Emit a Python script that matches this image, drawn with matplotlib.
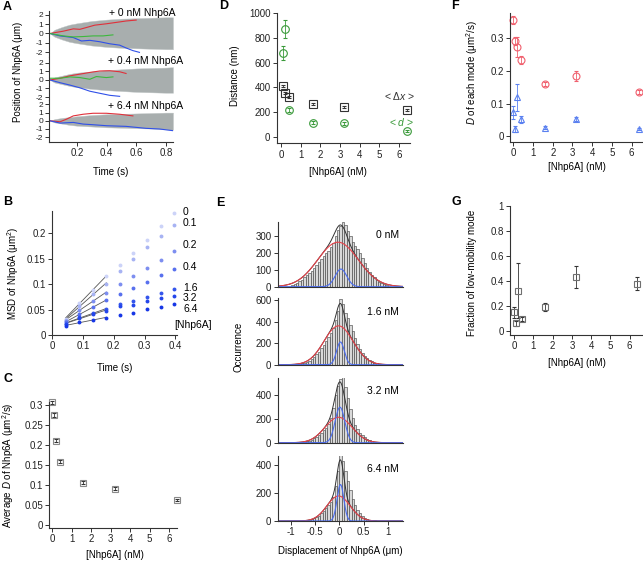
import numpy as np
import matplotlib
matplotlib.use("Agg")
import matplotlib.pyplot as plt

plt.rcParams['font.family'] = ['Liberation Sans', 'DejaVu Sans']
plt.rcParams['mathtext.fontset'] = 'custom'
plt.rcParams['mathtext.rm'] = 'Liberation Sans'
plt.rcParams['mathtext.it'] = 'Liberation Sans:italic'
plt.rcParams['font.size'] = 7

# ---------------- data ----------------
conc = [0, 0.1, 0.2, 0.4, 1.6, 3.2, 6.4]

# A: spread of trajectories (envelope of grey traces) and three example traces
a_t = [0.02, 0.05, 0.1, 0.15, 0.2, 0.3, 0.4, 0.5, 0.6, 0.7, 0.8, 0.845]
a_env = {
    "+ 0 nM Nhp6A": ([0.0, 0.4, 0.7, 0.95, 1.1, 1.35, 1.5, 1.6, 1.65, 1.7, 1.75, 1.75],
                     [0.0, -0.35, -0.65, -0.9, -1.05, -1.3, -1.45, -1.55, -1.6, -1.65, -1.7, -1.7]),
    "+ 0.4 nM Nhp6A": ([0.0, 0.3, 0.5, 0.7, 0.85, 1.0, 1.15, 1.25, 1.35, 1.4, 1.45, 1.5],
                       [0.0, -0.3, -0.5, -0.7, -0.85, -1.05, -1.2, -1.3, -1.4, -1.45, -1.5, -1.5]),
    "+ 6.4 nM Nhp6A": ([0.0, 0.2, 0.35, 0.45, 0.55, 0.7, 0.8, 0.85, 0.9, 0.95, 1.0, 1.0],
                       [0.0, -0.2, -0.35, -0.5, -0.6, -0.7, -0.8, -0.85, -0.9, -0.95, -1.05, -1.1]),
}
a_red = [([0.02, 0.109, 0.176, 0.22, 0.276, 0.32, 0.398, 0.487, 0.53, 0.598],
          [0, 0.25, 0.5, 0.45, 0.7, 0.9, 1.05, 1.25, 1.35, 1.45]),
         ([0.02, 0.087, 0.153, 0.22, 0.287, 0.353, 0.42, 0.487, 0.53],
          [0, 0.2, 0.48, 0.68, 0.88, 1.05, 1.08, 0.96, 0.76]),
         ([0.02, 0.087, 0.131, 0.176, 0.242, 0.309, 0.398, 0.487, 0.576],
          [0, -0.12, 0.2, 0.6, 0.8, 0.92, 0.92, 0.8, 0.6])]
a_blue = [([0.02, 0.087, 0.176, 0.231, 0.287, 0.353, 0.42, 0.487, 0.53, 0.576, 0.62],
           [0, -0.26, -0.44, -0.81, -0.74, -0.89, -1.11, -1.26, -1.56, -1.85, -2.04]),
          ([0.02, 0.087, 0.153, 0.22, 0.287, 0.353, 0.42, 0.487],
           [0, -0.32, -0.6, -0.92, -1.32, -1.56, -1.8, -1.92]),
          ([0.02, 0.087, 0.176, 0.242, 0.309, 0.398, 0.53, 0.664, 0.753, 0.842],
           [0, -0.28, -0.2, -0.4, -0.48, -0.6, -0.68, -0.92, -1.0, -1.2])]
a_green = [([0.02, 0.109, 0.176, 0.242, 0.309, 0.376, 0.442],
            [0, -0.26, -0.37, -0.33, -0.26, -0.26, -0.15]),
           ([0.02, 0.087, 0.153, 0.22, 0.287, 0.331, 0.398, 0.442],
            [0.2, 0.2, 0.36, 0.28, 0.08, 0.4, 0.28, 0.36]),
           None]

# B: MSD vs lag time
b_time = [0.044, 0.088, 0.132, 0.176, 0.22, 0.264, 0.308, 0.352, 0.396]
b_msd = {
    "0":   [0.032, 0.063, 0.089, 0.115, 0.137, 0.161, 0.187, 0.214, 0.240],
    "0.1": [0.030, 0.057, 0.080, 0.101, 0.126, 0.150, 0.173, 0.194, 0.216],
    "0.2": [0.028, 0.050, 0.067, 0.083, 0.0997, 0.115, 0.131, 0.147, 0.164],
    "0.4": [0.025, 0.041, 0.055, 0.068, 0.080, 0.092, 0.105, 0.118, 0.130],
    "1.6": [0.022, 0.035, 0.043, 0.051, 0.061, 0.067, 0.074, 0.083, 0.090],
    "3.2": [0.021, 0.034, 0.041, 0.048, 0.056, 0.059, 0.066, 0.072, 0.077],
    "6.4": [0.018, 0.025, 0.030, 0.034, 0.039, 0.044, 0.051, 0.055, 0.060],
}
b_colors = ['#ccd3f8', '#a7b3f3', '#7d8ef0', '#5870ee', '#3455ec', '#2446ea', '#1636e6']
b_label_y = [211.7, 223.3, 245, 266.7, 288.3, 298.3, 309]

# C: average D
c_D = [0.307, 0.275, 0.211, 0.158, 0.106, 0.091, 0.062]
c_err = [0.004, 0.004, 0.004, 0.004, 0.003, 0.003, 0.003]

# D: distances
d_conc = [0.1, 0.2, 0.4, 1.6, 3.2, 6.4]
d_dx = [412, 358, 321, 265, 246, 219]
d_dx_err = [8, 8, 8, 8, 8, 8]
d_d = [674, 869, 219, 118, 112, 53]
d_d_err = [55, 70, 15, 10, 12, 8]

# E: displacement histograms (bins of 0.05 um from -1 to 1) and two-Gaussian fits
e_labels = ["0 nM", "1.6 nM", "3.2 nM", "6.4 nM"]
e_counts = [
    [12, 18, 25, 33, 42, 55, 68, 80, 96, 112, 130, 148, 165, 180, 198, 215, 238, 262, 300, 335,
     360, 388, 370, 330, 300, 268, 245, 225, 200, 170, 140, 112, 90, 70, 55, 40, 30, 22, 15, 10],
    [2, 3, 5, 8, 12, 18, 26, 38, 52, 70, 95, 122, 152, 185, 222, 258, 295, 340, 410, 500,
     605, 560, 480, 430, 370, 310, 250, 195, 150, 112, 82, 60, 42, 30, 20, 13, 8, 5, 3, 2],
    [1, 1, 2, 3, 5, 8, 12, 18, 26, 36, 50, 66, 85, 105, 128, 160, 210, 290, 400, 480,
     540, 552, 470, 380, 285, 205, 150, 112, 85, 62, 45, 32, 22, 15, 10, 6, 4, 2, 1, 1],
    [0, 0, 0, 1, 1, 2, 4, 7, 11, 18, 27, 39, 54, 72, 92, 115, 140, 175, 250, 360,
     472, 430, 360, 290, 220, 160, 115, 80, 55, 38, 25, 16, 10, 6, 4, 2, 1, 1, 0, 0],
]
e_fast = [(265, -0.03, 0.42), (360, -0.02, 0.30), (215, -0.02, 0.28), (180, -0.02, 0.24)]
e_slow = [(105, 0.03, 0.12), (210, 0.02, 0.08), (300, 0.01, 0.10), (262, 0.02, 0.07)]
e_ylim = [387, 615, 549, 467]
e_yticks = [[0, 100, 200, 300], [0, 200, 400, 600], [0, 200, 400], [0, 200, 400]]

# F: D of each mode
f_fast = [0.356, 0.292, 0.274, 0.233, 0.161, 0.186, 0.136]
f_fast_err = [0.012, 0.012, 0.03, 0.012, 0.006, 0.015, 0.006]
f_slow = [0.073, 0.022, 0.119, 0.052, 0.027, 0.052, 0.023]
f_slow_err = [0.02, 0.01, 0.04, 0.01, 0.005, 0.006, 0.004]

# G: fraction of low-mobility mode
g_frac = [0.149, 0.061, 0.323, 0.099, 0.192, 0.432, 0.379]
g_err = [0.045, 0.02, 0.22, 0.015, 0.035, 0.085, 0.05]

# ---------------- layout helpers ----------------
W, H = 643, 562
fig = plt.figure(figsize=(W / 100, H / 100), dpi=100)

def px_axes(l, t, r, b):
    return fig.add_axes([l / W, 1 - b / H, (r - l) / W, (b - t) / H])

def px_text(x, y, s, **kw):
    fig.text(x / W, 1 - y / H, s, **kw)

def style(ax, bottom=True, size=7):
    for s in ['top', 'right']:
        ax.spines[s].set_visible(False)
    for s in ['left', 'bottom']:
        ax.spines[s].set_linewidth(0.8)
        ax.spines[s].set_color('#333333')
    if not bottom:
        ax.spines['bottom'].set_visible(False)
    ax.tick_params(direction='out', length=3, width=0.7, colors='#333333',
                   labelsize=size, pad=1.5, labelcolor='#222222')

def fmt(vals):
    return [f"{v:g}" for v in vals]

def points(ax, x, y, err, marker, col, ecol, ms=5):
    eb = ax.errorbar(x, y, yerr=err, fmt=marker, ms=ms, mfc='none', mec=col, mew=0.8,
                     ecolor=ecol, elinewidth=0.6, capsize=1.5)
    for art in [eb.lines[0], *eb.lines[1], *eb.lines[2]]:
        art.set_clip_on(False)

# ---------------- panel A ----------------
a_boxes = [(11, 57), (57, 100), (100, 142)]
a_ylims = [(-2.54, 2.43), (-2.35, 2.69), (-2.59, 2.54)]
for i, (name, (hi, lo)) in enumerate(a_env.items()):
    t, b = a_boxes[i]
    ax = px_axes(49, t, 173, b)
    style(ax, bottom=(i == 2), size=6)
    ax.tick_params(axis='y', pad=1)
    ax.fill_between(a_t, lo, hi, color='#a8aeae', lw=0.3, edgecolor='#c0c6c6')
    ax.plot(*a_red[i], color='#e0303a', lw=0.8)
    ax.plot(*a_blue[i], color='#3050e8', lw=0.8)
    if a_green[i] is not None:
        ax.plot(*a_green[i], color='#3cb83c', lw=0.8)
    ax.set_xlim(0.013, 0.845)
    ax.set_ylim(*a_ylims[i])
    ax.set_yticks([-2, -1, 0, 1, 2])
    ax.set_yticklabels(fmt([-2, -1, 0, 1, 2]))
    if i < 2:
        ax.set_xticks([])
    else:
        ax.set_xticks([0.2, 0.4, 0.6, 0.8])
        ax.set_xticklabels(fmt([0.2, 0.4, 0.6, 0.8]), fontsize=7)
px_text(109, 13, "+ 0 nM Nhp6A", va='center', fontsize=7.5)
px_text(108, 61, "+ 0.4 nM Nhp6A", va='center', fontsize=7.5)
px_text(108, 106, "+ 6.4 nM Nhp6A", va='center', fontsize=7.5)
px_text(18, 72, "Position of Nhp6A (μm)", rotation=90, ha='center', va='center')
px_text(111, 172, "Time (s)", ha='center', va='center')

# ---------------- panel B ----------------
ax = px_axes(52, 210.7, 177, 335)
style(ax)
for (lab, y), col, ly in zip(b_msd.items(), b_colors, b_label_y):
    k, c0 = np.polyfit(b_time[:4], y[:4], 1)
    ax.plot([b_time[0], b_time[3]], [k * b_time[0] + c0, k * b_time[3] + c0],
            color='#555555', lw=0.6, zorder=1)
    ax.plot(b_time, y, 'o', color=col, ms=2.8, mec='none', zorder=2)
    px_text(183, ly, lab, va='center', fontsize=7.5)
px_text(174, 325, "[Nhp6A]", va='center', fontsize=7.5)
ax.set_xlim(0, 0.405)
ax.set_ylim(0, 0.244)
ax.set_xticks([0, 0.1, 0.2, 0.3, 0.4])
ax.set_xticklabels(fmt([0, 0.1, 0.2, 0.3, 0.4]))
ax.set_yticks([0, 0.05, 0.1, 0.15, 0.2])
ax.set_yticklabels(fmt([0, 0.05, 0.1, 0.15, 0.2]))
px_text(13, 273, "MSD of Nhp6A (μm$^2$)", rotation=90, ha='center', va='center')
px_text(115, 368, "Time (s)", ha='center', va='center')

# ---------------- panel C ----------------
ax = px_axes(49.3, 401.7, 177, 527.7)
style(ax)
points(ax, conc, c_D, c_err, 's', '#8a8a8a', '#333333', ms=4.5)
ax.set_xlim(-0.15, 6.4)
ax.set_ylim(-0.007, 0.308)
ax.set_xticks(range(7))
ax.set_yticks([0, 0.05, 0.1, 0.15, 0.2, 0.25, 0.3])
ax.set_yticklabels(fmt([0, 0.05, 0.1, 0.15, 0.2, 0.25, 0.3]))
px_text(8, 465, "Average $D$ of Nhp6A (μm$^2$/s)", rotation=90, ha='center', va='center')
px_text(115, 555, "[Nhp6A] (nM)", ha='center', va='center')

# ---------------- panel D ----------------
ax = px_axes(276.7, 12.7, 410, 143.3)
style(ax)
points(ax, d_conc, d_dx, d_dx_err, 's', '#333333', '#333333', ms=5.5)
points(ax, d_conc, d_d, d_d_err, 'o', '#3a9a3a', '#3a9a3a', ms=5.5)
ax.set_xlim(-0.235, 6.57)
ax.set_ylim(-48, 1000)
ax.set_xticks(range(7))
ax.set_yticks([0, 200, 400, 600, 800, 1000])
px_text(400, 96, "< Δ$x$ >", ha='center', va='center', fontsize=7.5, color='#333333')
px_text(402, 122, "< $d$ >", ha='center', va='center', fontsize=7.5, color='#3a9a3a')
px_text(235, 76, "Distance (nm)", rotation=90, ha='center', va='center')
px_text(338, 172, "[Nhp6A] (nM)", ha='center', va='center')

# ---------------- panel E ----------------
e_boxes = [(221.7, 286.7), (298.3, 364.7), (377.7, 442.7), (456, 521)]
centers = np.arange(-0.975, 1.0, 0.05)
xs = np.linspace(-1.28, 1.31, 400)
for i in range(4):
    t, b = e_boxes[i]
    ax = px_axes(277.7, t, 402.7, b)
    style(ax)
    ax.bar(centers, e_counts[i], width=0.05, color='#d9d9d9', edgecolor='#3a3a3a', lw=0.4)
    A1, m1, s1 = e_fast[i]
    A2, m2, s2 = e_slow[i]
    g1 = A1 * np.exp(-(xs - m1) ** 2 / (2 * s1 ** 2))
    g2 = A2 * np.exp(-(xs - m2) ** 2 / (2 * s2 ** 2))
    ax.plot(xs, g1 + g2, color='#333333', lw=0.7)
    ax.plot(xs, g1, color='#e8424a', lw=0.8)
    ax.plot(xs, g2, color='#4a6cf0', lw=0.8)
    ax.set_xlim(-1.28, 1.31)
    ax.set_ylim(0, e_ylim[i])
    ax.set_yticks(e_yticks[i])
    if i < 3:
        ax.set_xticks([])
    else:
        ax.set_xticks([-1, -0.5, 0, 0.5, 1])
        ax.set_xticklabels(fmt([-1, -0.5, 0, 0.5, 1]))
    ax.text(0.97, 0.8, e_labels[i], transform=ax.transAxes, ha='right', va='center', fontsize=7.5)
px_text(238, 347, "Occurrence", rotation=90, ha='center', va='center')
px_text(340, 551, "Displacement of Nhp6A (μm)", ha='center', va='center')

# ---------------- panel F ----------------
ax = px_axes(510, 13.3, 643, 141.7)
style(ax)
points(ax, conc, f_fast, f_fast_err, 'o', '#f0606e', '#f0606e')
points(ax, conc, f_slow, f_slow_err, '^', '#5a80f0', '#5a80f0')
ax.set_xlim(-0.17, 6.58)
ax.set_ylim(-0.0165, 0.377)
ax.set_xticks(range(7))
ax.set_yticks([0, 0.1, 0.2, 0.3])
ax.set_yticklabels(fmt([0, 0.1, 0.2, 0.3]))
px_text(472, 73, "$D$ of each mode (μm$^2$/s)", rotation=90, ha='center', va='center')
px_text(577, 167, "[Nhp6A] (nM)", ha='center', va='center')

# ---------------- panel G ----------------
ax = px_axes(510, 206, 643, 335)
style(ax)
points(ax, conc, g_frac, g_err, 's', '#707070', '#333333')
ax.set_xlim(-0.22, 6.7)
ax.set_ylim(-0.032, 1.0)
ax.set_xticks(range(7))
ax.set_yticks([0, 0.2, 0.4, 0.6, 0.8, 1])
ax.set_yticklabels(fmt([0, 0.2, 0.4, 0.6, 0.8, 1]))
px_text(472, 273, "Fraction of low-mobility mode", rotation=90, ha='center', va='center')
px_text(577, 363, "[Nhp6A] (nM)", ha='center', va='center')

# ---------------- panel letters ----------------
for letter, x, y in [("A", 3, 7), ("B", 3, 202), ("C", 3, 379), ("D", 219, 6),
                     ("E", 216, 203), ("F", 451, 6), ("G", 451, 202)]:
    px_text(x, y, letter, fontsize=9, fontweight='bold', va='center')

fig.savefig("out.png", dpi=100)
